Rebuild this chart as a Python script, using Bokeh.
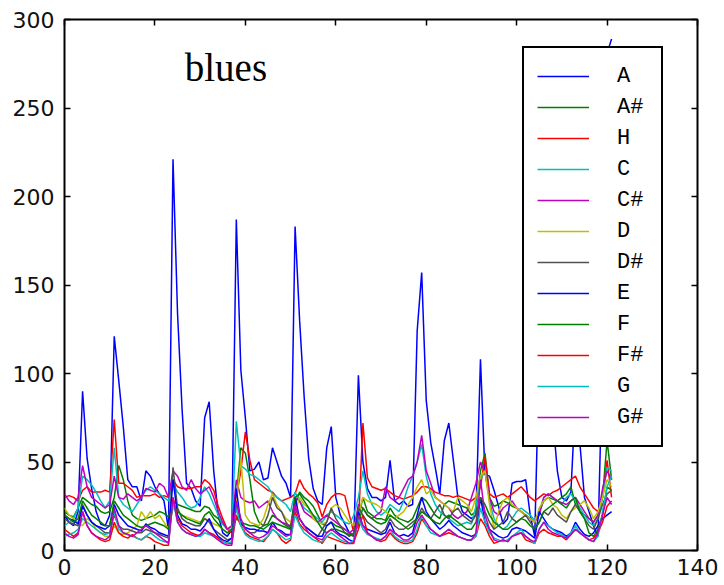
from bokeh.plotting import figure
from bokeh.models import (Legend, LegendItem, LinearAxis, Label, FixedTicker,
                          CustomJSTickFormatter)
from bokeh.embed import file_html
from bokeh.resources import INLINE

# chroma energy per frame, one series per pitch class
frames = list(range(122))

a_vals = [20, 16, 14, 22, 90, 52, 35, 22, 15, 14,
          20, 121, 96, 70, 40, 36, 36, 28, 45, 42,
          36, 32, 28, 12, 221, 134, 80, 38, 35, 28,
          25, 75, 84, 45, 20, 10, 8, 12, 187, 102,
          75, 45, 46, 50, 40, 41, 58, 50, 42, 38,
          30, 183, 130, 87, 52, 35, 28, 26, 58, 70,
          30, 20, 15, 10, 8, 99, 50, 35, 30, 30,
          28, 30, 51, 28, 26, 28, 25, 26, 124, 157,
          85, 61, 47, 32, 62, 72, 51, 30, 22, 20,
          18, 20, 108, 43, 42, 34, 25, 15, 18, 38,
          39, 39, 40, 20, 8, 110, 200, 130, 75, 45,
          30, 28, 33, 85, 60, 30, 22, 14, 8, 108,
          281, 289]

ais_vals = [22, 20, 19, 24, 30, 28, 26, 25, 22, 21,
            22, 30, 48, 40, 28, 20, 18, 17, 18, 19,
            20, 22, 21, 19, 28, 26, 25, 24, 23, 22,
            22, 25, 24, 20, 18, 15, 12, 14, 30, 58,
            55, 40, 22, 16, 14, 15, 20, 18, 16, 14,
            13, 26, 33, 30, 28, 25, 20, 15, 14, 16,
            14, 13, 12, 10, 9, 18, 30, 22, 20, 18,
            18, 17, 24, 20, 18, 17, 16, 18, 24, 30,
            28, 24, 20, 18, 26, 28, 27, 26, 25, 24,
            20, 22, 45, 55, 30, 25, 26, 28, 27, 25,
            24, 22, 20, 18, 16, 22, 28, 30, 29, 28,
            30, 32, 36, 26, 22, 20, 18, 16, 20, 30,
            62, 40]

h_vals = [30, 31, 30, 28, 34, 36, 33, 33, 33, 34,
          33, 74, 38, 38, 36, 34, 30, 31, 31, 31,
          32, 30, 31, 30, 40, 36, 35, 35, 35, 36,
          36, 40, 38, 34, 25, 18, 12, 10, 30, 45,
          67, 51, 40, 38, 36, 34, 33, 30, 28, 29,
          30, 32, 40, 35, 32, 30, 27, 19, 26, 30,
          32, 32, 31, 20, 10, 14, 72, 41, 36, 35,
          34, 35, 33, 31, 30, 29, 30, 31, 33, 36,
          36, 35, 33, 32, 31, 31, 30, 31, 30, 29,
          28, 30, 36, 53, 32, 30, 31, 32, 30, 32,
          34, 36, 33, 30, 28, 30, 32, 31, 33, 34,
          36, 38, 40, 42, 36, 32, 28, 24, 22, 30,
          51, 30]

c_vals = [14, 16, 18, 24, 42, 40, 37, 33, 28, 24,
          28, 58, 30, 26, 24, 22, 26, 30, 34, 36,
          34, 32, 30, 28, 38, 33, 30, 26, 24, 25,
          30, 36, 32, 26, 20, 15, 12, 12, 73, 48,
          46, 43, 42, 40, 38, 36, 32, 30, 28, 26,
          22, 33, 28, 24, 22, 20, 18, 16, 20, 22,
          20, 18, 16, 15, 20, 30, 45, 32, 26, 22,
          20, 22, 26, 24, 22, 28, 36, 42, 50, 60,
          42, 32, 26, 22, 20, 18, 16, 14, 15, 16,
          15, 25, 40, 45, 28, 18, 14, 12, 14, 18,
          22, 24, 22, 20, 17, 22, 30, 32, 30, 28,
          26, 30, 32, 28, 24, 20, 16, 14, 18, 30,
          47, 45]

cis_vals = [32, 28, 26, 30, 48, 36, 30, 28, 26, 24,
            26, 42, 30, 29, 32, 30, 28, 30, 35, 34,
            33, 38, 36, 30, 45, 42, 36, 34, 40, 35,
            32, 34, 36, 30, 22, 16, 12, 14, 40, 30,
            28, 27, 28, 24, 26, 28, 22, 18, 16, 15,
            14, 30, 28, 22, 20, 18, 16, 18, 20, 18,
            16, 14, 12, 10, 12, 26, 24, 20, 18, 20,
            22, 36, 30, 28, 30, 35, 40, 42, 50, 65,
            45, 38, 30, 28, 26, 24, 20, 18, 20, 22,
            30, 38, 50, 44, 30, 22, 20, 24, 26, 28,
            24, 22, 20, 18, 16, 20, 30, 32, 30, 28,
            27, 26, 28, 30, 26, 22, 18, 16, 20, 35,
            45, 40]

d_vals = [24, 20, 18, 16, 14, 18, 16, 12, 10, 8,
          8, 14, 10, 9, 10, 12, 14, 22, 18, 22,
          18, 20, 16, 12, 24, 22, 20, 19, 18, 17,
          16, 18, 17, 15, 14, 12, 10, 12, 26, 52,
          20, 16, 15, 14, 18, 26, 32, 26, 22, 18,
          16, 22, 30, 26, 24, 18, 16, 15, 16, 24,
          26, 24, 20, 16, 14, 20, 30, 28, 27, 26,
          24, 22, 20, 18, 20, 22, 26, 30, 36, 40,
          32, 34, 30, 28, 26, 24, 22, 30, 28, 26,
          22, 30, 42, 45, 26, 12, 22, 28, 30, 26,
          24, 22, 20, 18, 16, 24, 28, 30, 26, 24,
          20, 18, 22, 24, 26, 28, 24, 18, 22, 30,
          40, 36]

dis_vals = [18, 16, 15, 14, 26, 20, 16, 14, 12, 10,
            10, 20, 14, 12, 12, 11, 10, 10, 12, 11,
            10, 9, 8, 7, 47, 24, 18, 16, 15, 14,
            14, 18, 16, 12, 10, 8, 6, 7, 26, 16,
            12, 10, 10, 12, 14, 20, 30, 24, 22, 16,
            12, 24, 18, 14, 12, 10, 8, 12, 16, 24,
            18, 14, 10, 8, 10, 24, 20, 16, 14, 12,
            10, 12, 18, 14, 12, 12, 14, 16, 18, 24,
            20, 18, 22, 26, 20, 18, 22, 24, 20, 18,
            16, 20, 30, 22, 16, 12, 14, 16, 22, 18,
            16, 18, 20, 16, 12, 16, 22, 20, 24, 20,
            18, 16, 22, 26, 22, 18, 14, 12, 18, 26,
            32, 34]

e_vals = [20, 18, 17, 15, 25, 20, 16, 14, 13, 12,
          14, 26, 20, 17, 14, 13, 12, 11, 15, 13,
          12, 10, 9, 8, 40, 20, 15, 14, 12, 12,
          11, 14, 18, 12, 8, 6, 5, 7, 35, 15,
          13, 12, 12, 11, 11, 10, 16, 12, 11, 9,
          9, 30, 18, 14, 12, 10, 8, 8, 14, 16,
          11, 9, 8, 6, 5, 22, 14, 12, 11, 10,
          9, 10, 16, 10, 8, 9, 8, 10, 20, 30,
          22, 18, 15, 12, 14, 17, 14, 12, 10, 9,
          8, 9, 30, 16, 12, 10, 8, 7, 8, 12,
          13, 12, 11, 9, 7, 22, 18, 14, 12, 11,
          10, 8, 10, 16, 12, 9, 8, 10, 14, 18,
          20, 22]

f_vals = [20, 18, 16, 18, 28, 24, 20, 18, 16, 14,
          14, 28, 24, 20, 18, 16, 14, 13, 14, 15,
          16, 15, 14, 12, 26, 22, 20, 18, 17, 16,
          15, 20, 22, 18, 15, 12, 10, 12, 18, 16,
          15, 14, 14, 13, 12, 14, 16, 15, 14, 13,
          12, 30, 32, 28, 24, 20, 16, 12, 10, 12,
          12, 11, 10, 9, 8, 16, 24, 20, 18, 16,
          15, 16, 20, 18, 16, 14, 12, 14, 18, 22,
          20, 18, 16, 15, 18, 20, 18, 16, 14, 12,
          12, 16, 30, 26, 20, 16, 14, 12, 12, 14,
          16, 18, 17, 14, 12, 16, 22, 24, 26, 28,
          26, 24, 28, 30, 22, 18, 10, 8, 12, 20,
          36, 34]

fis_vals = [12, 10, 8, 10, 22, 14, 10, 8, 6, 5,
            6, 16, 10, 8, 7, 9, 7, 6, 8, 7,
            5, 4, 3, 3, 30, 18, 14, 12, 10, 9,
            8, 12, 10, 9, 7, 5, 4, 4, 20, 14,
            10, 8, 7, 6, 5, 8, 12, 10, 6, 4,
            6, 22, 15, 12, 10, 8, 6, 4, 8, 7,
            6, 5, 4, 4, 5, 12, 20, 10, 8, 6,
            5, 6, 10, 7, 5, 4, 4, 5, 10, 18,
            14, 12, 10, 8, 9, 10, 9, 8, 7, 6,
            6, 8, 18, 14, 8, 4, 5, 6, 5, 8,
            9, 10, 6, 5, 4, 10, 12, 10, 9, 8,
            8, 6, 9, 12, 10, 8, 6, 7, 10, 16,
            25, 28]

g_vals = [8, 9, 10, 12, 18, 16, 14, 12, 10, 9,
          10, 22, 12, 10, 9, 8, 7, 6, 8, 10,
          8, 6, 5, 5, 28, 16, 12, 10, 9, 8,
          8, 10, 9, 8, 6, 5, 4, 5, 24, 14,
          9, 7, 6, 5, 6, 8, 12, 10, 8, 6,
          7, 20, 14, 10, 8, 6, 5, 5, 8, 10,
          8, 6, 5, 4, 6, 18, 12, 9, 8, 7,
          6, 8, 12, 8, 6, 5, 5, 6, 12, 20,
          14, 10, 9, 8, 10, 12, 10, 8, 7, 6,
          6, 8, 24, 16, 10, 7, 6, 5, 6, 8,
          10, 12, 8, 6, 4, 12, 16, 14, 12, 10,
          9, 7, 10, 14, 10, 8, 6, 5, 8, 22,
          36, 42]

gis_vals = [10, 8, 7, 9, 22, 14, 10, 8, 7, 6,
            8, 24, 14, 10, 9, 8, 10, 12, 14, 12,
            10, 8, 6, 4, 30, 16, 12, 10, 9, 8,
            9, 12, 10, 8, 6, 4, 3, 3, 28, 18,
            12, 10, 8, 7, 8, 10, 14, 12, 10, 8,
            9, 26, 18, 14, 10, 8, 7, 6, 10, 12,
            10, 8, 6, 4, 4, 20, 14, 10, 8, 6,
            6, 8, 12, 10, 8, 6, 6, 8, 16, 20,
            16, 12, 10, 8, 10, 12, 10, 8, 7, 6,
            6, 10, 40, 20, 12, 6, 5, 6, 5, 8,
            9, 10, 8, 6, 5, 12, 16, 12, 10, 9,
            8, 7, 9, 12, 10, 8, 6, 5, 10, 20,
            30, 26]

notes = ["A", "A#", "H", "C", "C#", "D", "D#", "E", "F", "F#", "G", "G#"]
series = [a_vals, ais_vals, h_vals, c_vals, cis_vals, d_vals,
          dis_vals, e_vals, f_vals, fis_vals, g_vals, gis_vals]
colors = ["#0000ff", "#008000", "#ff0000", "#00bfbf", "#bf00bf", "#bfbf00",
          "#505050", "#0000ff", "#008000", "#ff0000", "#00bfbf", "#bf00bf"]

x_ticks = [0, 20, 40, 60, 80, 100, 120, 140]
y_ticks = [0, 50, 100, 150, 200, 250, 300]

p = figure(width=724, height=585, x_range=(0, 140), y_range=(0, 300),
           output_backend="svg", toolbar_location=None,
           x_axis_location=None, y_axis_location=None,
           min_border_left=64, min_border_right=27,
           min_border_top=19, min_border_bottom=35)
p.grid.visible = False
p.outline_line_color = "black"
p.outline_line_alpha = 1.0
p.outline_line_width = 2
p.background_fill_color = "white"
p.border_fill_color = "white"

items = []
for name, vals, col in zip(notes, series, colors):
    r = p.line(frames, vals, line_color=col, line_width=1.5)
    items.append(LegendItem(label=name, renderers=[r]))

# bottom / left axes carry the labels, top / right only mirror the ticks
blank = CustomJSTickFormatter(code="return ''")
x_bottom = LinearAxis(ticker=FixedTicker(ticks=x_ticks), major_label_standoff=8)
y_left = LinearAxis(ticker=FixedTicker(ticks=y_ticks), major_label_standoff=10)
x_top = LinearAxis(ticker=FixedTicker(ticks=x_ticks), formatter=blank,
                   major_label_standoff=0)
y_right = LinearAxis(ticker=FixedTicker(ticks=y_ticks), formatter=blank,
                     major_label_standoff=0)
for ax in (x_bottom, y_left, x_top, y_right):
    ax.axis_line_color = None
    ax.major_tick_in = 6
    ax.major_tick_out = 0
    ax.major_tick_line_color = "black"
    ax.major_tick_line_width = 1.5
    ax.minor_tick_line_color = None
    ax.major_label_text_font = "DejaVu Sans"
    ax.major_label_text_font_size = "22px"
    ax.major_label_text_color = "#111111"
p.add_layout(x_bottom, "below")
p.add_layout(y_left, "left")
p.add_layout(x_top, "above")
p.add_layout(y_right, "right")

p.add_layout(Label(x=35.7, y=273, text="blues", text_align="center",
                   text_baseline="alphabetic", text_font="Liberation Serif",
                   text_font_size="39px", text_color="black"))

legend = Legend(items=items, location=(458, 103), margin=0,
                padding=13, spacing=1, glyph_width=52, glyph_height=30,
                label_height=30, label_width=31, label_standoff=28,
                label_text_font="Liberation Mono", label_text_font_size="22px",
                label_text_color="black",
                border_line_color="black", border_line_alpha=1.0,
                border_line_width=2,
                background_fill_color="white", background_fill_alpha=1.0)
p.add_layout(legend, "center")

open("out.html", "w").write(file_html(p, INLINE))
